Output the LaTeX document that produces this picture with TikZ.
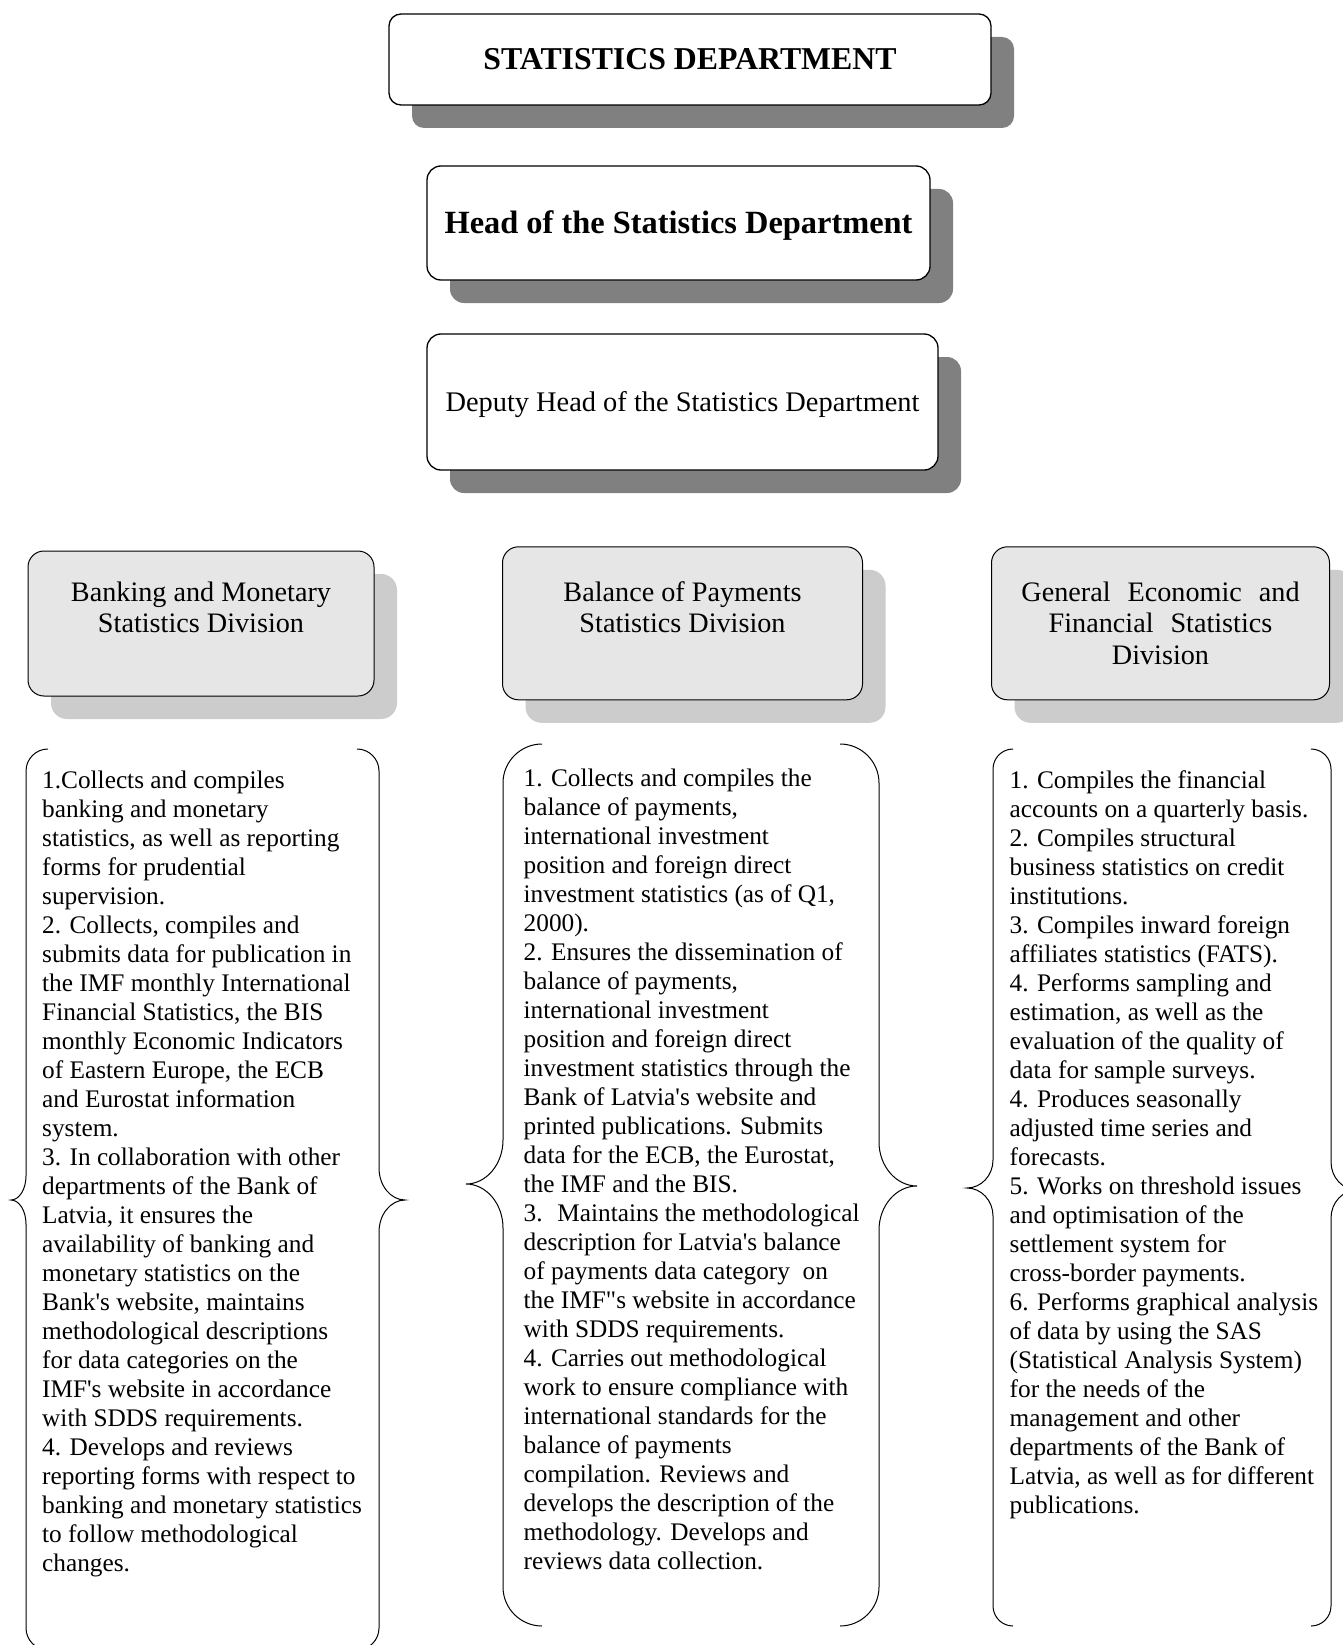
\documentclass[tikz,border=0pt]{standalone}
\usepackage{fontspec}
\setmainfont{Liberation Serif}
\usetikzlibrary{shadows,positioning}
\definecolor{shadowdark}{HTML}{808080}
\definecolor{shadowlight}{HTML}{CCCCCC}
\definecolor{divfill}{HTML}{E6E6E6}
\newcommand{\ap}{\textquotesingle}
% #1 line x, #2 tip x, #3 top y, #4 bottom y, #5 tip y, #6 corner (signed), #7 half tip height
\newcommand{\dutybrace}[7]{%
  \draw[curlline] ({#1+(#6)},#3) .. controls ({#1+0.45*(#6)},#3) and (#1,{#3+0.45*abs(#6)}) .. (#1,{#3+abs(#6)})
    -- (#1,{#5-#7}) .. controls (#1,{#5-0.45*#7}) and ({#2+0.55*(#1-#2)},#5) .. (#2,#5)
    .. controls ({#2+0.55*(#1-#2)},#5) and (#1,{#5+0.45*#7}) .. (#1,{#5+#7})
    -- (#1,{#4-abs(#6)}) .. controls (#1,{#4-0.45*abs(#6)}) and ({#1+0.45*(#6)},#4) .. ({#1+(#6)},#4);}
\tikzset{
  deptbox/.style={draw, fill=white, rounded corners=12pt, line width=1.3pt,
    drop shadow={shadow xshift=23pt, shadow yshift=-23pt, fill=shadowdark, opacity=1}},
  divbox/.style={draw, fill=divfill, rounded corners=16pt, line width=1pt,
    drop shadow={shadow xshift=23pt, shadow yshift=-23pt, fill=shadowlight, opacity=1}},
  divtitle/.style={anchor=north, align=center, inner sep=0pt, font=\fontsize{28.2}{31.5}\selectfont},
  dutytext/.style={anchor=north west, align=left, inner sep=0pt, font=\fontsize{25.3}{29}\selectfont},
  curlline/.style={line width=1pt}
}
\begin{document}
\begin{tikzpicture}[x=1pt,y=-1pt]
\fill[white] (0,0) rectangle (1342,1645);
\useasboundingbox (0,0) rectangle (1342,1645);

% department and heads
\node[deptbox, minimum width=602pt, minimum height=91pt,
  font=\fontsize{31.8}{36}\selectfont\bfseries] (dept) at (690,59.5) {STATISTICS DEPARTMENT};
\node[deptbox, rounded corners=14pt, minimum width=503pt, minimum height=114pt,
  text height=23pt, text depth=1.6pt,
  font=\fontsize{32.4}{38}\selectfont\bfseries] (head) at (678.5,223) {Head of the Statistics Department};
\node[deptbox, rounded corners=14pt, minimum width=511pt, minimum height=136pt,
  text height=19.6pt, text depth=0.4pt,
  font=\fontsize{28.4}{34}\selectfont] (deputy) at (682.5,402) {Deputy Head of the Statistics Department};

% divisions
\node[divbox, minimum width=346pt, minimum height=145pt] (bank) at (201,623.5) {};
\node[divbox, minimum width=360pt, minimum height=153pt] (bop) at (682.5,623.3) {};
\node[divbox, minimum width=338pt, minimum height=153pt] (gen) at (1160.5,623.3) {};
\node[divtitle] (bankT) at ([yshift=-31pt]bank.north) {Banking and Monetary\\Statistics Division};
\node[divtitle] (bopT) at ([yshift=-35pt]bop.north) {Balance of Payments\\Statistics Division};
\node[divtitle] (genT) at ([yshift=-35pt]gen.north)
  {General\hspace{.6em}Economic\hspace{.6em}and\\Financial\hspace{.6em}Statistics\\Division};

% duties
\node[dutytext] (bankDuty) at (42,771) {1.Collects and compiles\\
banking and monetary\\
statistics, as well as reporting\\
forms for prudential\\
supervision.\\
2. Collects, compiles and\\
submits data for publication in\\
the IMF monthly International\\
Financial Statistics, the BIS\\
monthly Economic Indicators\\
of Eastern Europe, the ECB\\
and Eurostat information\\
system.\\
3. In collaboration with other\\
departments of the Bank of\\
Latvia, it ensures the\\
availability of banking and\\
monetary statistics on the\\
Bank\ap s website, maintains\\
methodological descriptions\\
for data categories on the\\
IMF\ap s website in accordance\\
with SDDS requirements.\\
4. Develops and reviews\\
reporting forms with respect to\\
banking and monetary statistics\\
to follow methodological\\
changes.};
\node[dutytext] (bopDuty) at (523.5,769) {1. Collects and compiles the\\
balance of payments,\\
international investment\\
position and foreign direct\\
investment statistics (as of Q1,\\
2000).\\
2. Ensures the dissemination of\\
balance of payments,\\
international investment\\
position and foreign direct\\
investment statistics through the\\
Bank of Latvia\ap s website and\\
printed publications. Submits\\
data for the ECB, the Eurostat,\\
the IMF and the BIS.\\
3.~ Maintains the methodological\\
description for Latvia\ap s balance\\
of payments data category~ on\\
the IMF\textquotedbl s website in accordance\\
with SDDS requirements.\\
4. Carries out methodological\\
work to ensure compliance with\\
international standards for the\\
balance of payments\\
compilation. Reviews and\\
develops the description of the\\
methodology. Develops and\\
reviews data collection.};
\node[dutytext] (genDuty) at (1009.5,770) {1. Compiles the financial\\
accounts on a quarterly basis.\\
2. Compiles structural\\
business statistics on credit\\
institutions.\\
3. Compiles inward foreign\\
affiliates statistics (FATS).\\
4. Performs sampling and\\
estimation, as well as the\\
evaluation of the quality of\\
data for sample surveys.\\
4. Produces seasonally\\
adjusted time series and\\
forecasts.\\
5. Works on threshold issues\\
and optimisation of the\\
settlement system for\\
cross-border payments.\\
6. Performs graphical analysis\\
of data by using the SAS\\
(Statistical Analysis System)\\
for the needs of the\\
management and other\\
departments of the Bank of\\
Latvia, as well as for different\\
publications.};

% braces round the duties
\dutybrace{26}{11}{749}{1650}{1200}{22}{24}
\dutybrace{379}{405}{749}{1650}{1200}{-22}{32}
\dutybrace{503}{466}{744}{1626}{1184}{39}{44}
\dutybrace{879}{917}{744}{1626}{1186}{-39}{44}
\dutybrace{993}{967}{749}{1626}{1188}{20}{28}
\dutybrace{1331}{1357}{749}{1626}{1190}{-20}{28}
\end{tikzpicture}
\end{document}
